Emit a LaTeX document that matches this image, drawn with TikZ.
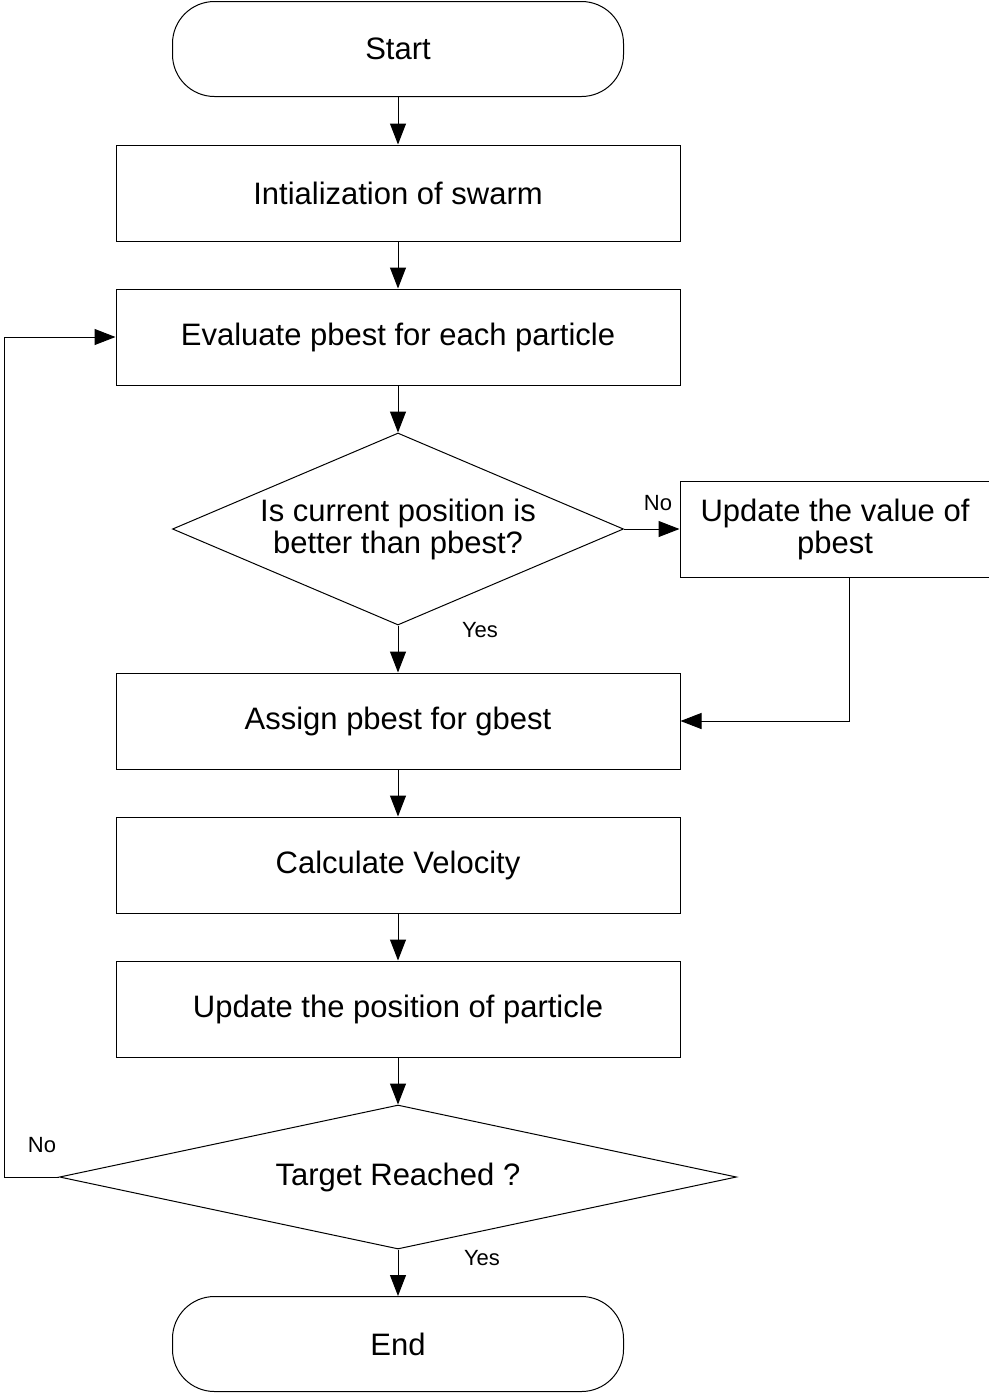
\documentclass[tikz,border=0pt]{standalone}
\usepackage{fontspec}
\setmainfont{Liberation Sans}
\usetikzlibrary{arrows.meta,calc,shapes.geometric}

\begin{document}
\begin{tikzpicture}[x=0.5pt,y=-0.5pt,>={Triangle[length=10.5pt,width=8pt]},
  line width=0.5pt,line join=miter,
  font=\fontsize{15.5}{16}\selectfont,
  term/.style={draw,rectangle,rounded corners=21pt,minimum width=225.5pt,minimum height=47.5pt,inner sep=0pt},
  proc/.style={draw,rectangle,minimum width=282pt,minimum height=48pt,inner sep=0pt,align=center},
  test/.style={draw,diamond,inner sep=0pt,align=center},
  lbl/.style={font=\fontsize{11}{13}\selectfont,inner sep=0pt},
  flow/.style={->}]
\path[use as bounding box] (0,0) rectangle (989,1394);
\fill[white] (0,0) rectangle (989,1394);
% main column
\node[term] (start) at (398,49) {Start};
\node[proc] (init) at (398,193) {Intialization of swarm};
\node[proc] (evalp) at (398,337) {Evaluate pbest for each particle};
\node[test,minimum width=225.5pt,minimum height=96pt,shape aspect=2.35] (check) at (398,529)
  {Is current position is\\better than pbest?};
\node[proc,minimum width=155pt] (upd) at (835,529) {Update the value of\\pbest};
\node[proc] (assign) at (398,721) {Assign pbest for gbest};
\node[proc] (velo) at (398,865) {Calculate Velocity};
\node[proc] (posn) at (398,1009) {Update the position of particle};
\node[test,minimum width=338.5pt,minimum height=72pt,shape aspect=4.7] (target) at (398,1177)
  {Target Reached ?};
\node[term] (end) at (398,1344) {End};
% connectors
\draw[flow] (start) -- (init);
\draw[flow] (init) -- (evalp);
\draw[flow] (evalp) -- (check);
\draw[flow] (check.east) -- (upd.west);
\draw[flow] (check.south) -- (assign.north);
\draw[flow] ([xshift=7pt]upd.south) |- (assign.east);
\draw[flow] (assign) -- (velo);
\draw[flow] (velo) -- (posn);
\draw[flow] (posn) -- (target.north);
\draw[flow] (target.south) -- (end.north);
\draw[flow] (target.west) -- ++(-55,0) |- (evalp.west);
% branch labels
\node[lbl] (nolbl1) at (658,503) {No};
\node[lbl] (yeslbl1) at (480,630) {Yes};
\node[lbl] (nolbl2) at (42,1145) {No};
\node[lbl] (yeslbl2) at (482,1258) {Yes};
\end{tikzpicture}
\end{document}
